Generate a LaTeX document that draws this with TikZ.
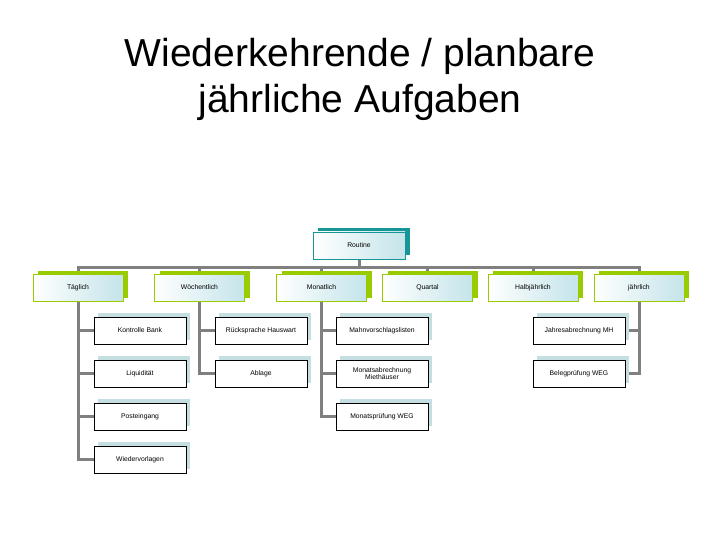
\documentclass[tikz,border=0pt]{standalone}
\usepackage{fontspec}
\setmainfont{Liberation Sans}
\usetikzlibrary{shapes,positioning,shadows,backgrounds}

\definecolor{routineteal}{RGB}{22,150,150}
\definecolor{levelgreen}{RGB}{153,204,0}
\definecolor{boxblue}{RGB}{196,228,234}
\definecolor{taskshadow}{RGB}{196,222,226}
\definecolor{connectgray}{RGB}{128,128,128}

\begin{document}
\begin{tikzpicture}[x=1pt, y=-1pt, node distance=15.5pt,
    title/.style={anchor=base, font=\fontsize{39}{46}\selectfont},
    boxbase/.style={rectangle, line width=0.5pt, left color=white, right color=boxblue, minimum width=90pt, minimum height=27pt, inner sep=1pt, font=\fontsize{6.8}{8}\selectfont},
    routine/.style={boxbase, draw=routineteal, minimum width=92pt, general shadow={fill=routineteal, shadow xshift=5pt, shadow yshift=4pt}},
    period/.style={boxbase, draw=levelgreen, general shadow={fill=levelgreen, shadow xshift=5pt, shadow yshift=3pt}},
    task/.style={rectangle, draw=black, line width=0.6pt, fill=white, minimum width=92pt, minimum height=27pt, inner sep=1pt, align=center, font=\fontsize{6.8}{7.6}\selectfont, general shadow={fill=taskshadow, shadow xshift=4pt, shadow yshift=4pt}},
    conn/.style={draw=connectgray, line width=3pt}]

    \useasboundingbox (0,0) rectangle (720,540);

    % Title
    \node[title] (title1) at (360,67) {Wiederkehrende / planbare};
    \node[title] (title2) at (360,113) {jährliche Aufgaben};

    % Root
    \node[routine] (routine) at (359,245.5) {Routine};

    % Periods
    \node[period] (taeglich) at (78,287.5) {Täglich};
    \node[period] (woechentlich) at (199.5,287.5) {Wöchentlich};
    \node[period] (monatlich) at (321.5,287.5) {Monatlich};
    \node[period] (quartal) at (427.5,287.5) {Quartal};
    \node[period] (halbjaehrlich) at (533,287.5) {Halbjährlich};
    \node[period] (jaehrlich) at (639,287.5) {jährlich};

    % Daily tasks
    \node[task] (kontrolle) at (140,330.5) {Kontrolle Bank};
    \node[task, below=of kontrolle] (liquiditaet) {Liquidität};
    \node[task, below=of liquiditaet] (posteingang) {Posteingang};
    \node[task, below=of posteingang] (wiedervorlagen) {Wiedervorlagen};

    % Weekly tasks
    \node[task] (ruecksprache) at (261,330.5) {Rücksprache Hauswart};
    \node[task, below=of ruecksprache] (ablage) {Ablage};

    % Monthly tasks
    \node[task] (mahnlisten) at (382,330.5) {Mahnvorschlagslisten};
    \node[task, below=of mahnlisten] (monatsabr) {Monatsabrechnung\\Miethäuser};
    \node[task, below=of monatsabr] (monatspruef) {Monatsprüfung WEG};

    % Yearly tasks
    \node[task] (jahresabr) at (579,330.5) {Jahresabrechnung MH};
    \node[task, below=of jahresabr] (belegpruef) {Belegprüfung WEG};

    % Connectors
    \begin{scope}[on background layer]
    \draw[conn] (routine.south) -- ++(0,8) -| (taeglich.north);
    \draw[conn] (routine.south) -- ++(0,8) -| (woechentlich.north);
    \draw[conn] (routine.south) -- ++(0,8) -| (monatlich.north);
    \draw[conn] (routine.south) -- ++(0,8) -| (quartal.north);
    \draw[conn] (routine.south) -- ++(0,8) -| (halbjaehrlich.north);
    \draw[conn] (routine.south) -- ++(0,8) -| (jaehrlich.north);

    \draw[conn] (taeglich.south) |- (kontrolle.west);
    \draw[conn] (taeglich.south) |- (liquiditaet.west);
    \draw[conn] (taeglich.south) |- (posteingang.west);
    \draw[conn] (taeglich.south) |- (wiedervorlagen.west);
    \draw[conn] (woechentlich.south) |- (ruecksprache.west);
    \draw[conn] (woechentlich.south) |- (ablage.west);
    \draw[conn] (monatlich.south) |- (mahnlisten.west);
    \draw[conn] (monatlich.south) |- (monatsabr.west);
    \draw[conn] (monatlich.south) |- (monatspruef.west);
    \draw[conn] (jaehrlich.south) |- (jahresabr.east);
    \draw[conn] (jaehrlich.south) |- (belegpruef.east);
    \end{scope}

\end{tikzpicture}
\end{document}
